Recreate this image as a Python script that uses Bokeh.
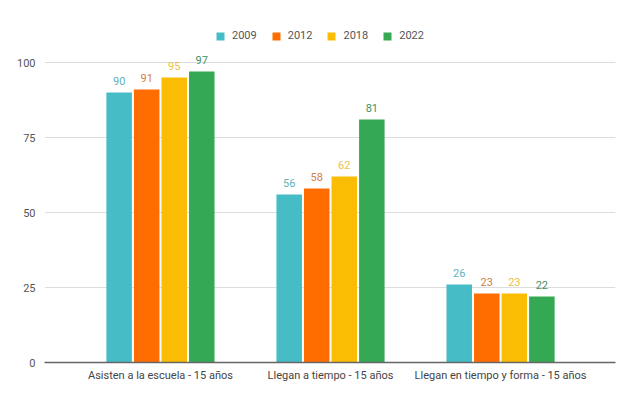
from bokeh.plotting import figure
from bokeh.models import ColumnDataSource, FixedTicker, Legend, LegendItem, Range1d
from bokeh.embed import file_html
from bokeh.resources import INLINE
from bokeh.core.properties import value

categories = ["Asisten a la escuela - 15 años", "Llegan a tiempo - 15 años", "Llegan en tiempo y forma - 15 años"]
years = ["2009", "2012", "2018", "2022"]
v2009 = [90, 56, 26]
v2012 = [91, 58, 23]
v2018 = [95, 62, 23]
v2022 = [97, 81, 22]
series = [v2009, v2012, v2018, v2022]
bar_colors = ["#46BDC6", "#FF6D01", "#FBBC04", "#34A853"]
label_colors = ["#62B2BA", "#D0823F", "#EDC048", "#3F9162"]
yticks = [0, 25, 50, 75, 100]

FONT = "Roboto"

p = figure(width=634, height=395, output_backend="svg", toolbar_location=None,
           x_range=Range1d(-0.682, 2.676), y_range=Range1d(0, 114),
           min_border_left=44, min_border_right=19, min_border_top=20, min_border_bottom=33)
p.outline_line_color = None
p.background_fill_color = "white"

step = 0.162
width = 0.15
items = []
for k, (yr, vals, bc, lc) in enumerate(zip(years, series, bar_colors, label_colors)):
    xs = [i + (k - 1.5) * step for i in range(len(categories))]
    src = ColumnDataSource(dict(x=xs, top=vals, lab=[str(v) for v in vals]))
    r = p.vbar(x="x", top="top", width=width, bottom=0, source=src, fill_color=bc, line_color=None)
    p.text(x="x", y="top", text="lab", source=src, text_align="center", text_baseline="alphabetic",
           y_offset=-12, text_color=lc, text_font_size="11px", text_font=value(FONT))
    items.append(LegendItem(label=yr, renderers=[r]))

legend = Legend(items=items, orientation="horizontal", location=(171, 320),
                glyph_width=10, glyph_height=10, label_standoff=7, spacing=14,
                label_text_font_size="11px", label_text_font=FONT, label_text_color="#555555",
                background_fill_alpha=0, border_line_color=None, padding=0, margin=0,
                label_height=10)
p.add_layout(legend)

p.xaxis.ticker = FixedTicker(ticks=[0, 1, 2])
p.xaxis.major_label_overrides = {0: categories[0], 1: categories[1], 2: categories[2]}
p.xaxis.major_tick_line_color = None
p.xaxis.minor_tick_line_color = None
p.xaxis.axis_line_color = "#666666"
p.xaxis.axis_line_width = 1.5
p.xaxis.major_label_text_font_size = "11px"
p.xaxis.major_label_text_font = FONT
p.xaxis.major_label_text_color = "#444444"
p.xaxis.major_label_standoff = 0

p.yaxis.ticker = FixedTicker(ticks=yticks)
p.yaxis.axis_line_color = None
p.yaxis.major_tick_line_color = None
p.yaxis.minor_tick_line_color = None
p.yaxis.major_label_text_font_size = "11px"
p.yaxis.major_label_text_font = FONT
p.yaxis.major_label_text_color = "#555555"
p.yaxis.major_label_standoff = 3

p.xgrid.grid_line_color = None
p.ygrid.grid_line_color = "#dddddd"
p.ygrid.ticker = FixedTicker(ticks=yticks[1:])

open("out.html", "w").write(file_html(p, INLINE))
